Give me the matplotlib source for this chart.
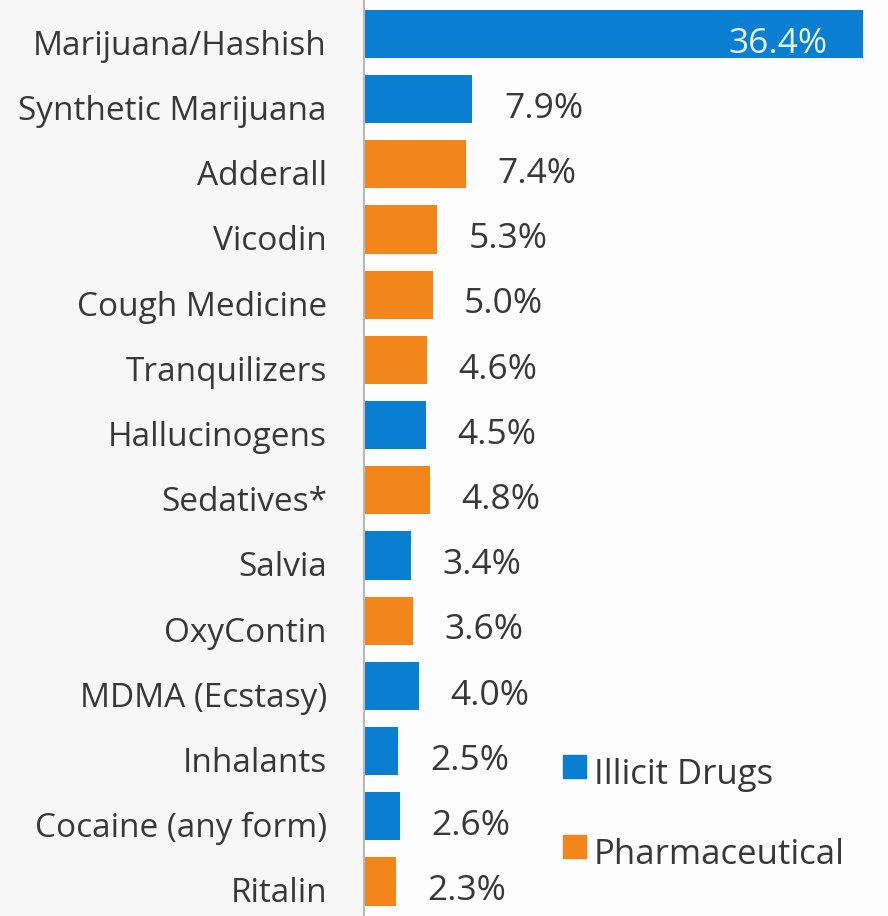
import matplotlib.pyplot as plt
from matplotlib.patches import Rectangle

plt.rcParams['font.family'] = ['Open Sans', 'DejaVu Sans']

drugs = ['Marijuana/Hashish', 'Synthetic Marijuana', 'Adderall', 'Vicodin',
         'Cough Medicine', 'Tranquilizers', 'Hallucinogens', 'Sedatives*',
         'Salvia', 'OxyContin', 'MDMA (Ecstasy)', 'Inhalants',
         'Cocaine (any form)', 'Ritalin']
pct = [36.4, 7.9, 7.4, 5.3, 5.0, 4.6, 4.5, 4.8, 3.4, 3.6, 4.0, 2.5, 2.6, 2.3]
kind = ['I', 'I', 'P', 'P', 'P', 'P', 'I', 'P', 'I', 'P', 'I', 'I', 'I', 'P']

blue = '#0a7fd2'
orange = '#f2861a'
txt = '#383838'
colors = [blue if k == 'I' else orange for k in kind]

fig = plt.figure(figsize=(8.88, 9.16), dpi=100, facecolor='#f7f7f7')
ax = fig.add_axes([364 / 888, 0, 1 - 364 / 888, 1])
ax.set_facecolor('#fdfdfd')

ys = list(range(len(drugs)))
ax.barh(ys, pct, height=0.74, color=colors)
ax.set_xlim(0, 38.2)
ax.set_ylim(13.53, -0.52)

for y, name, v in zip(ys, drugs, pct):
    ax.text(-2.7, y + 0.19, name, ha='right', va='center', fontsize=24,
            color=txt, clip_on=False)
    if v > 20:
        ax.text(v - 2.6, y + 0.15, f'{v:.1f}%', ha='right', va='center',
                fontsize=25.5, color='#e6f3ff')
    else:
        ax.text(v + 2.3, y + 0.15, f'{v:.1f}%', ha='left', va='center',
                fontsize=25.5, color=txt)

for s in ['top', 'right', 'bottom']:
    ax.spines[s].set_visible(False)
ax.spines['left'].set_color('#b8b8b8')
ax.spines['left'].set_linewidth(1.5)
ax.set_xticks([])
ax.set_yticks([])

# legend
for yp, c, lab in [(755, blue, 'Illicit Drugs'), (835, orange, 'Pharmaceutical')]:
    fig.patches.append(Rectangle((563 / 888, 1 - (yp + 23) / 916), 23 / 888, 23 / 916,
                                 transform=fig.transFigure, color=c))
    fig.text(594 / 888, 1 - (yp + 20) / 916, lab, ha='left', va='center',
             fontsize=25, color=txt)

fig.savefig('out.png', dpi=100, facecolor=fig.get_facecolor())
